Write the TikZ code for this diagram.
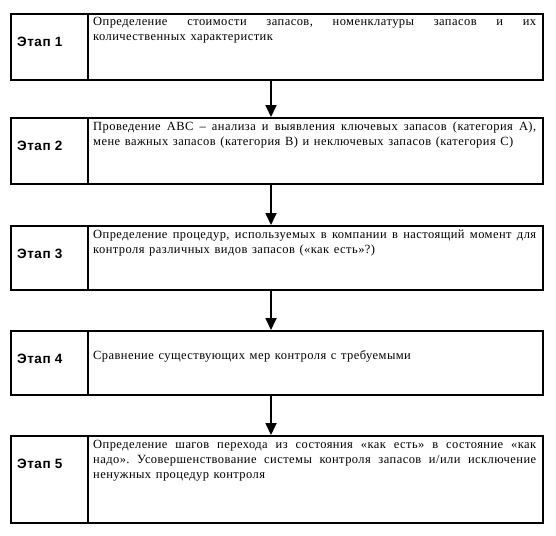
\documentclass[tikz,border=0pt]{standalone}
\usepackage{fontspec}
\setmainfont[LetterSpace=3.5,WordSpace={1.3,1.5,0}]{Liberation Serif}
\newfontfamily\labelfont[LetterSpace=4]{Liberation Sans}
\usetikzlibrary{arrows.meta}
\begin{document}
\begin{tikzpicture}[x=1pt,y=-1pt,
  boxframe/.style={draw, line width=1.9pt},
  divline/.style={line width=1.3pt},
  stagelabel/.style={anchor=base west, inner sep=0pt, font=\labelfont\bfseries\fontsize{13.5}{15}\selectfont},
  stagetext/.style={anchor=base west, inner sep=0pt, text width=443pt, align=justify,
     font=\fontsize{12.5}{15}\selectfont,
     execute at begin node={\frenchspacing\hyphenpenalty=10000 \exhyphenpenalty=10000 \tolerance=9999 \relax}},
  arr/.style={line width=1.8pt, -{Triangle[width=11pt,length=12pt]}}]
\useasboundingbox (0,0) rectangle (556,535);
\coordinate (ax) at (271,0);
% boxes
\foreach \n/\t/\b in {1/13/79, 2/117/183, 3/225/289, 4/330/394, 5/435/522}{
  \draw[divline] (88,\t) -- (88,\b);
  \node[boxframe, anchor=north west, minimum width=532pt, minimum height={\b-\t}, inner sep=0pt] (b\n) at (10,\t) {};
  \node[stagelabel] (l\n) at (17,\t+33) {Этап \n};
}
\node[stagetext] (t1) at (93,13+13) {Определение стоимости запасов, номенклатуры запасов и их количественных характеристик};
\node[stagetext] (t2) at (93,117+13) {Проведение ABC – анализа и выявления ключевых запасов (категория А), мене важных запасов (категория В) и неключевых запасов (категория С)};
\node[stagetext] (t3) at (93,225+13) {Определение процедур, используемых в компании в настоящий момент для контроля различных видов запасов («как есть»?)};
\node[stagetext] (t4) at (93,330+29) {Сравнение существующих мер контроля с требуемыми};
\node[stagetext] (t5) at (93,435+13) {Определение шагов перехода из состояния «как есть» в состояние «как надо». Усовершенствование системы контроля запасов и/или исключение ненужных процедур контроля};
% arrows
\draw[arr] (b1.south -| ax) -- (b2.north -| ax);
\draw[arr] (b2.south -| ax) -- (b3.north -| ax);
\draw[arr] (b3.south -| ax) -- (b4.north -| ax);
\draw[arr] (b4.south -| ax) -- (b5.north -| ax);
\end{tikzpicture}
\end{document}
